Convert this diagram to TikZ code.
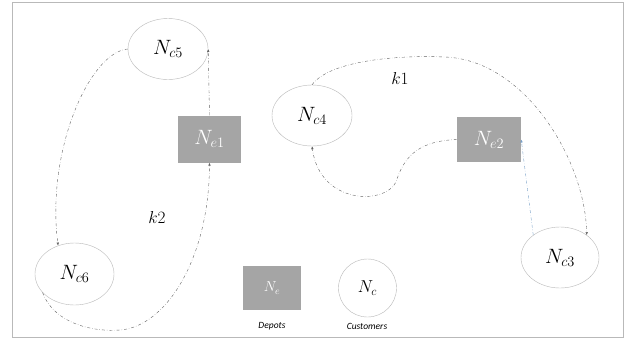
\documentclass[tikz,border=0pt]{standalone}
\usepackage{fontspec}
\newfontfamily\legendfont{Carlito}
\usetikzlibrary{arrows.meta,shapes.geometric}
\definecolor{depotgray}{RGB}{165,165,165}
\definecolor{rimgray}{RGB}{185,185,185}
\definecolor{routegray}{RGB}{100,100,100}
\definecolor{routeblue}{RGB}{120,160,200}
\begin{document}
\begin{tikzpicture}[x=1pt,y=-1pt]\tikzset{customer/.style = {shape=ellipse,draw=rimgray, inner sep = 0pt, minimum width=80pt, minimum height=61pt, font=\fontsize{21}{25}\selectfont},
	depot/.style = {shape=rectangle, fill=depotgray, text=white, inner sep = 0pt, minimum width=63pt, minimum height=47pt, font=\fontsize{21}{25}\selectfont},
	route/.style = {draw=routegray, thin, dash dot, -{Latex[length=3pt,width=2.4pt]}}}

		\fill[white] (0,0) rectangle (629,349);
		\draw[rimgray, line width=0.8pt] (12,2) rectangle (623,337);

		\node[customer] (Nc_5) at (168,49) {$N_{c5}$};
		\node[customer] (Nc_4) at (312,115.5) {$N_{c4}$};
		\node[customer, minimum width=79pt, minimum height=62pt] (Nc_6) at (74.5,274) {$N_{c6}$};
		\node[customer, minimum width=78pt] (Nc_3) at (560,257.5) {$N_{c3}$};
		\node[depot] (Ne_1) at (209.5,139) {$N_{e1}$};
		\node[depot, minimum width=64pt, minimum height=45pt] (Ne_2) at (489,139.5) {$N_{e2}$};

		\node[depot, minimum width=58pt, minimum height=44pt, font=\fontsize{14}{16}\selectfont] (Ne_key) at (272,288) {$N_e$};
		\node[customer, shape=circle, minimum size=58pt, font=\fontsize{17}{20}\selectfont] (Nc_key) at (367.5,288) {$N_c$};
		\node[font=\legendfont\itshape\fontsize{9.5}{11}\selectfont] (depots) at (272,326) {Depots};
		\node[font=\legendfont\itshape\fontsize{9.5}{11}\selectfont] (customers) at (367,326) {Customers};

		\node[font=\fontsize{17}{20}\selectfont] (k_1) at (400,78) {$k1$};
		\node[font=\fontsize{17}{20}\selectfont] (k_2) at (157,217) {$k2$};

		\draw[route] (Ne_1.north) -- (Nc_5.east);
		\draw[route] (Nc_5.west) .. controls (90,52) and (46,150) .. (Nc_6.120);
		\draw[route] (Nc_6.210) .. controls (55,325) and (95,332) .. (120,330) .. controls (165,327) and (209,260) .. (Ne_1.south);
		\draw[route] (Ne_2.west) .. controls (415,141) and (403,160) .. (396,182) .. controls (385,205) and (320,205) .. (Nc_4.south);
		\draw[route] (Nc_4.north) .. controls (330,60) and (400,55) .. (445,57) .. controls (525,60) and (585,160) .. (Nc_3.40);
		\draw[route, draw=routeblue] (Nc_3.140) -- (Ne_2.east);
	\end{tikzpicture}
\end{document}
